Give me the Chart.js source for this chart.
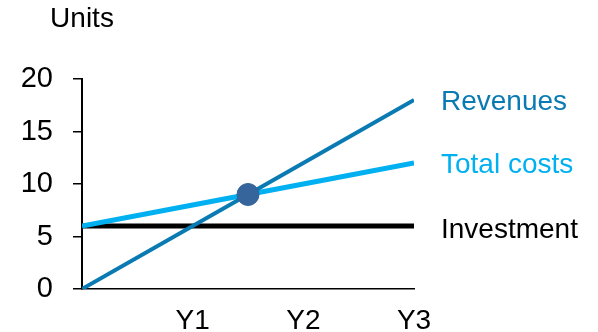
<!DOCTYPE html>
<html>
<head>
<meta charset="utf-8">
<script src="https://cdn.jsdelivr.net/npm/chart.js@4.4.0/dist/chart.umd.min.js"></script>
<style>
  html, body { margin: 0; padding: 0; background: #fff; }
  #wrap { width: 598px; height: 332px; position: relative; }
</style>
</head>
<body>
<div id="wrap"><canvas id="breakEven"></canvas></div>
<script>
const xLabels = ['', 'Y1', 'Y2', 'Y3'];
const revenues = [0, 6, 12, 18];
const totalCosts = [6, 8, 10, 12];
const investment = [6, 6, 6, 6];
const breakEven = [{ x: 1.5, y: 9 }];
const yTicks = [0, 5, 10, 15, 20];

const FONT = "'Liberation Sans', Arial, sans-serif";

function toPoints(arr) {
  return arr.map((v, i) => ({ x: i, y: v }));
}

// names at the right end of each line + "Units" over the y axis
const lineLabels = {
  id: 'lineLabels',
  afterDraw(chart) {
    const ctx = chart.ctx;
    const xs = chart.scales.x, ys = chart.scales.y;
    ctx.save();
    ctx.font = '28px ' + FONT;
    ctx.textBaseline = 'middle';
    ctx.textAlign = 'left';
    chart.data.datasets.forEach(ds => {
      if (!ds.endLabel) return;
      const last = ds.data[ds.data.length - 1];
      ctx.fillStyle = ds.labelColor;
      ctx.fillText(ds.endLabel, xs.getPixelForValue(last.x) + 27, ys.getPixelForValue(last.y) + ds.labelDy);
    });
    ctx.fillStyle = '#000';
    ctx.textAlign = 'center';
    ctx.fillText('Units', chart.chartArea.left, 19);
    ctx.restore();
  }
};

new Chart(document.getElementById('breakEven'), {
  type: 'line',
  data: {
    datasets: [
      {
        type: 'scatter',
        data: breakEven,
        backgroundColor: '#35659A',
        borderColor: '#35659A',
        pointRadius: 11,
        showLine: false
      },
      {
        endLabel: 'Revenues',
        labelColor: '#0A7AB3',
        labelDy: 2,
        data: toPoints(revenues),
        borderColor: '#0A7AB3',
        borderWidth: 4,
        pointRadius: 0
      },
      {
        endLabel: 'Total costs',
        labelColor: '#00B0F0',
        labelDy: 2,
        data: toPoints(totalCosts),
        borderColor: '#00B0F0',
        borderWidth: 5,
        pointRadius: 0
      },
      {
        endLabel: 'Investment',
        labelColor: '#000',
        labelDy: 4,
        data: toPoints(investment),
        borderColor: '#000',
        borderWidth: 5,
        pointRadius: 0
      }
    ]
  },
  options: {
    responsive: true,
    maintainAspectRatio: false,
    animation: false,
    layout: { padding: { top: 79, right: 184, bottom: 0, left: 0 } },
    plugins: {
      legend: { display: false },
      tooltip: { enabled: false }
    },
    scales: {
      x: {
        type: 'linear',
        min: 0,
        max: 3,
        afterFit: s => { s.height = 43; },
        afterBuildTicks: s => { s.ticks = xLabels.map((_, i) => ({ value: i })); },
        ticks: {
          callback: v => xLabels[v],
          font: { family: FONT, size: 28 },
          color: '#000',
          padding: 15,
          maxRotation: 0
        },
        grid: { display: true, drawOnChartArea: false, drawTicks: false },
        border: { color: '#000', width: 1.5 }
      },
      y: {
        min: 0,
        max: 20,
        afterFit: s => { s.width = 82; },
        afterBuildTicks: s => { s.ticks = yTicks.map(v => ({ value: v })); },
        ticks: {
          font: { family: FONT, size: 29 },
          color: '#000',
          padding: 20
        },
        grid: { drawOnChartArea: false, drawTicks: true, tickLength: 9, color: '#000', lineWidth: 1.5 },
        border: { color: '#000', width: 2 }
      }
    }
  },
  plugins: [lineLabels]
});
</script>
</body>
</html>
